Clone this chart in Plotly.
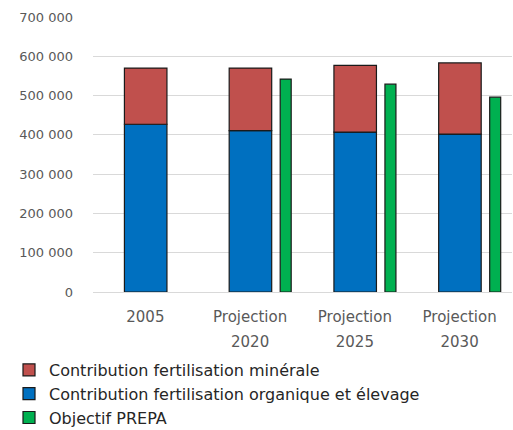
import plotly.graph_objects as go

categories = ["2005", "Projection 2020", "Projection 2025", "Projection 2030"]
category_labels = ["2005", "Projection<br>2020", "Projection<br>2025", "Projection<br>2030"]
organique_elevage = [427000, 411000, 407000, 402000]
minerale = [143000, 159000, 170000, 181000]
objectif_prepa = [None, 542000, 529000, 496000]
y_tickvals = [0, 100000, 200000, 300000, 400000, 500000, 600000, 700000]
y_ticktext = ["0", "100 000", "200 000", "300 000", "400 000", "500 000", "600 000", "700 000"]
series_names = ["Contribution fertilisation organique et élevage",
                "Contribution fertilisation minérale",
                "Objectif PREPA"]

FONT = "DejaVu Sans"
line = dict(color="#1a1a1a", width=1.2)


def small(t, px=15):
    return '<span style="font-size:%dpx">' % px + t.replace(
        "<br>", '</span><br><span style="font-size:%dpx">' % px) + '</span>'


fig = go.Figure()
fig.add_trace(go.Bar(
    x=categories, y=organique_elevage, name=series_names[0],
    marker=dict(color="#0070C0", line=line), width=0.406, offset=-0.2, legendrank=2,
))
fig.add_trace(go.Bar(
    x=categories, y=minerale, base=organique_elevage, name=series_names[1],
    marker=dict(color="#C0504D", line=line), width=0.406, offset=-0.2, legendrank=1,
))
fig.add_trace(go.Bar(
    x=categories, y=objectif_prepa, name=series_names[2],
    marker=dict(color="#00B050", line=line), width=0.105, offset=0.287, legendrank=3,
))

fig.update_layout(
    width=513, height=430,
    margin=dict(l=93, r=1, t=17, b=138, autoexpand=False),
    barmode="overlay",
    plot_bgcolor="white", paper_bgcolor="white",
    font=dict(family=FONT, size=15, color="#595959"),
    showlegend=True,
    legend=dict(
        xref="container", yref="container", x=9 / 513, y=1 - 353 / 430,
        xanchor="left", yanchor="top", orientation="v",
        font=dict(family=FONT, size=16, color="#262626"),
        tracegroupgap=0,
    ),
    xaxis=dict(
        type="category", categoryorder="array", categoryarray=categories,
        range=[-0.5, 3.5], tickvals=categories, ticktext=[small(t) for t in category_labels],
        tickfont=dict(family=FONT, size=19.5, color="#595959"), tickangle=0,
        showgrid=False, zeroline=False, showline=False, ticks="",
        ticklabelstandoff=9,
    ),
    yaxis=dict(
        range=[0, 700000], tickvals=y_tickvals, ticktext=y_ticktext,
        showgrid=True, gridcolor="#d9d9d9", gridwidth=1,
        zeroline=True, zerolinecolor="#d9d9d9", zerolinewidth=1,
        showline=False, ticks="", ticklabelstandoff=19,
        tickfont=dict(family=FONT, size=13, color="#595959"),
    ),
)

fig.write_html("out.html", config={"displayModeBar": False},
               post_script="document.body.style.margin='0';")
